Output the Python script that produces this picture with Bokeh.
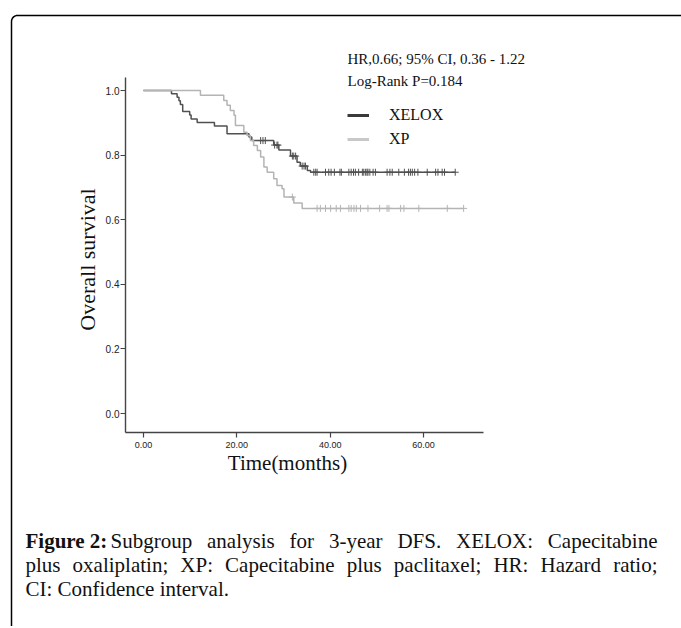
import numpy as np
from bokeh.plotting import figure
from bokeh.models import (Range1d, FixedTicker, Label, Legend, LegendItem,
                          ColumnDataSource)
from bokeh.embed import file_html
from bokeh.resources import INLINE

# ---------------- data ----------------
series_names = ["XELOX", "XP"]

xelox_times = [6.0, 7.2, 7.6, 7.9, 8.4, 9.9, 10.2, 11.5, 15.2, 17.9, 22.6, 23.2,
               27.9, 29.0, 31.5, 32.9, 33.6, 35.1, 35.8]
xelox_surv = [0.990, 0.979, 0.968, 0.957, 0.935, 0.924, 0.912, 0.901, 0.890, 0.866,
              0.856, 0.845, 0.831, 0.816, 0.797, 0.778, 0.766, 0.752, 0.747]
xelox_censored = [25.1, 25.6, 26.1, 28.1, 28.6, 28.8, 31.9, 32.2, 32.6, 34.0, 34.4, 34.7,
                  36.5, 36.9, 37.2, 39.0, 39.7, 40.2, 40.9, 42.1, 42.4, 44.0, 44.5, 45.0,
                  45.4, 46.1, 46.9, 47.2, 47.6, 47.9, 48.1, 48.5, 49.2, 49.7, 52.2, 52.8,
                  53.3, 54.7, 55.9, 56.8, 57.2, 57.6, 58.1, 58.8, 60.8, 62.6, 63.1, 64.0,
                  64.5, 66.8]

xp_times = [12.2, 17.2, 17.9, 18.6, 19.4, 19.7, 21.5, 22.2, 22.9, 23.6, 24.4, 25.1,
            25.8, 26.5, 27.9, 28.6, 29.7, 30.1, 32.2, 34.0]
xp_surv = [0.985, 0.969, 0.954, 0.938, 0.923, 0.892, 0.871, 0.861, 0.845, 0.830, 0.814,
           0.794, 0.763, 0.747, 0.727, 0.706, 0.696, 0.670, 0.652, 0.635]
xp_censored = [31.9, 37.2, 37.9, 39.0, 40.1, 41.3, 42.2, 44.0, 44.5, 45.1, 45.6, 46.5,
               48.1, 50.6, 52.2, 52.6, 55.1, 55.8, 59.0, 65.1, 68.6]

x_ticks = [0, 20, 40, 60]
x_tick_labels = ["0.00", "20.00", "40.00", "60.00"]
y_ticks = [0.0, 0.2, 0.4, 0.6, 0.8, 1.0]
y_tick_labels = ["0.0", "0.2", "0.4", "0.6", "0.8", "1.0"]

stats_lines = ["HR,0.66; 95% CI, 0.36 - 1.22", "Log-Rank P=0.184"]
x_title = "Time(months)"
y_title = "Overall survival"
caption_bold = "Figure 2:"
caption_lines = ["Subgroup analysis for 3-year DFS. XELOX: Capecitabine",
                 "plus oxaliplatin; XP: Capecitabine plus paclitaxel; HR: Hazard ratio;",
                 "CI: Confidence interval."]

# ---------------- geometry (canvas pixels) ----------------
W, H = 681, 626
X_ZERO_PX, PX_PER_MONTH = 143.0, (423.0 - 143.0) / 60.0
Y_ZERO_PX, PX_PER_UNIT = 413.0, 323.0
AX_L, AX_R, AX_T, AX_B = 125, 483, 77, 432   # axis line extents


def px2x(px):
    return (px - X_ZERO_PX) / PX_PER_MONTH


def px2y(py):
    return (Y_ZERO_PX - py) / PX_PER_UNIT


DARK = "#505050"
LIGHT = "#b4b4b4"
SERIF = "Liberation Serif"
INK = "#111111"

p = figure(width=W, height=H, title=None,
           min_border=0, min_border_left=0, min_border_right=0,
           min_border_top=0, min_border_bottom=0,
           x_range=Range1d(px2x(0), px2x(W)), y_range=Range1d(px2y(H), px2y(0)),
           output_backend="svg", toolbar_location=None)
p.grid.visible = False
p.outline_line_color = None
p.background_fill_color = "white"
p.border_fill_color = "white"

xa, ya = p.xaxis[0], p.yaxis[0]
xa.fixed_location = px2y(AX_B)
xa.bounds = (px2x(AX_L), px2x(AX_R))
ya.fixed_location = px2x(AX_L)
ya.bounds = (px2y(AX_B), px2y(AX_T))

for ax in (xa, ya):
    ax.axis_line_color = "#444444"
    ax.axis_line_width = 1.4
    ax.major_tick_line_color = "#444444"
    ax.major_tick_line_width = 1.2
    ax.major_tick_in = 0
    ax.major_tick_out = 5
    ax.minor_tick_line_color = None
    ax.major_label_text_font = "Liberation Sans"
    ax.major_label_text_color = "#222222"

xa.ticker = FixedTicker(ticks=x_ticks)
xa.major_label_overrides = dict(zip(x_ticks, x_tick_labels))
xa.major_label_text_font_size = "9px"
xa.major_label_standoff = 4
ya.ticker = FixedTicker(ticks=y_ticks)
ya.major_label_overrides = dict(zip(y_ticks, y_tick_labels))
ya.major_label_text_font_size = "10px"
ya.major_label_standoff = 1


def km_curve(times, surv, censored, color):
    end = censored[-1]
    xs = [0.0] + list(times) + [end]
    ys = [1.0] + list(surv) + [surv[-1]]
    p.step(x=xs, y=ys, mode="after", line_color=color, line_width=1.5)
    t_arr = np.array([0.0] + list(times))
    s_arr = np.array([1.0] + list(surv))
    idx = np.searchsorted(t_arr, np.array(censored), side="right") - 1
    src = ColumnDataSource(dict(x=censored, y=s_arr[idx]))
    p.scatter(x="x", y="y", source=src, marker="cross", size=7,
              line_color=color, line_width=1)


km_curve(xelox_times, xelox_surv, xelox_censored, DARK)
km_curve(xp_times, xp_surv, xp_censored, LIGHT)

# legend keys (renderers with a single NaN point, used only for the key)
leg_dark = p.line(x=[np.nan], y=[np.nan], line_color="#3a3a3a", line_width=3)
leg_light = p.line(x=[np.nan], y=[np.nan], line_color="#c8c8c8", line_width=3)
legend = Legend(items=[LegendItem(label=series_names[0], renderers=[leg_dark]),
                       LegendItem(label=series_names[1], renderers=[leg_light])],
                location=(347, H - 149),
                glyph_width=22, glyph_height=20, label_height=20,
                label_standoff=20, spacing=4, padding=0, margin=0,
                border_line_color=None, background_fill_alpha=0,
                label_text_font=SERIF, label_text_font_size="16px",
                label_text_color=INK)
p.add_layout(legend)

# stats text
for line, py in zip(stats_lines, [58, 80]):
    p.add_layout(Label(x=px2x(347), y=px2y(py), text=line, text_font=SERIF,
                       text_font_size="15px", text_baseline="middle",
                       text_color=INK))

# axis titles
p.add_layout(Label(x=px2x(287), y=px2y(462), text=x_title, text_font=SERIF,
                   text_font_size="21px", text_align="center", text_baseline="middle",
                   text_color=INK))
p.add_layout(Label(x=px2x(87), y=px2y(259), text=y_title, text_font=SERIF,
                   text_font_size="22px", text_align="center", text_baseline="middle",
                   angle=np.pi / 2, text_color=INK))

# ---------------- caption (justified like the source) ----------------
# advance widths of Times-compatible Liberation Serif (per 1000 em)
_W = {" ": 250, "%": 833, "(": 333, ")": 333, ",": 250, "-": 333, ".": 250,
      ":": 278, ";": 278, "=": 564}
_W.update({d: 500 for d in "0123456789"})
_W.update(dict(zip("ABCDEFGHIJKLMNOPQRSTUVWXYZ",
                   [722, 667, 667, 722, 611, 556, 722, 722, 333, 389, 722, 611, 889,
                    722, 722, 556, 722, 667, 556, 611, 722, 722, 944, 722, 722, 611])))
_W.update(dict(zip("abcdefghijklmnopqrstuvwxyz",
                   [444, 500, 444, 500, 444, 333, 500, 500, 278, 278, 500, 278, 778,
                    500, 500, 500, 500, 333, 389, 278, 500, 500, 722, 500, 500, 444])))

CAP_SIZE = 21


def text_w(s, size):
    return sum(_W.get(c, 500) for c in s) / 1000.0 * size


def caption_line(line, x_start, py, x_end=None):
    if x_end is None:
        p.add_layout(Label(x=px2x(x_start), y=px2y(py), text=line, text_font=SERIF,
                           text_font_size=f"{CAP_SIZE}px", text_baseline="middle",
                           text_color=INK))
        return
    words = line.split(" ")
    total = sum(text_w(w_, CAP_SIZE) for w_ in words)
    gap = (x_end - x_start - total) / (len(words) - 1)
    x = x_start
    for w_ in words:
        p.add_layout(Label(x=px2x(x), y=px2y(py), text=w_, text_font=SERIF,
                           text_font_size=f"{CAP_SIZE}px", text_baseline="middle",
                           text_color=INK))
        x += text_w(w_, CAP_SIZE) + gap


p.add_layout(Label(x=px2x(25), y=px2y(540), text=caption_bold, text_font=SERIF,
                   text_font_style="bold", text_font_size=f"{CAP_SIZE}px",
                   text_baseline="middle", text_color=INK))
caption_line(caption_lines[0], 110, 540, 657)
caption_line(caption_lines[1], 25, 564, 657)
caption_line(caption_lines[2], 25, 588)

# ---------------- rounded frame border (top + left edges visible) ----------------
BX, BY, R = 11.0, 15.0, 6.0
ang = np.linspace(np.pi, 1.5 * np.pi, 10)
corner_px = BX + R + R * np.cos(ang)
corner_py = BY + R + R * np.sin(ang)
border_px = [BX] + list(corner_px) + [W]
border_py = [H] + list(corner_py) + [BY]
p.line(x=[px2x(v) for v in border_px], y=[px2y(v) for v in border_py],
       line_color="black", line_width=1.5, line_cap="butt")

open("out.html", "w").write(file_html(p, INLINE))
